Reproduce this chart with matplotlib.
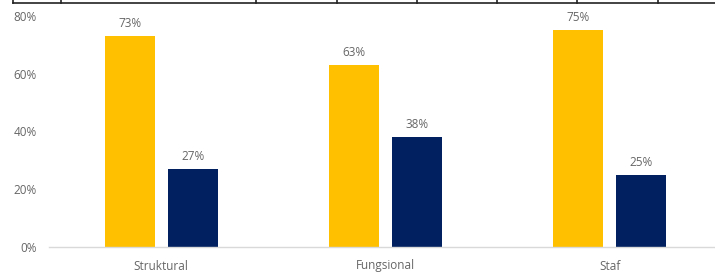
import matplotlib
matplotlib.use("Agg")
import matplotlib.pyplot as plt
from matplotlib.lines import Line2D
import numpy as np

categories = ["Struktural", "Fungsional", "Staf"]
series_a = [73, 63, 75]   # yellow
series_b = [27, 38, 25]   # navy
yticks = [0, 20, 40, 60, 80]
ytick_labels = ["0%", "20%", "40%", "60%", "80%"]

plt.rcParams['font.family'] = ['Open Sans', 'DejaVu Sans']

W, H = 715, 273
fig = plt.figure(figsize=(W / 100, H / 100), dpi=100)
left, right = 49, 722
top, bottom = 16, 247
ax = fig.add_axes([left / W, (H - bottom) / H, (right - left) / W, (bottom - top) / H])

x = np.arange(len(categories))
bw = 0.223
off = 0.14
yellow = "#FFC000"
navy = "#002060"
ba = ax.bar(x - off, series_a, bw, color=yellow)
bb = ax.bar(x + off, series_b, bw, color=navy)

gray = "#666666"
for bars, vals in ((ba, series_a), (bb, series_b)):
    for r, v in zip(bars, vals):
        ax.annotate(f"{v}%", (r.get_x() + r.get_width() / 2, v), xytext=(0, 4.5),
                    textcoords="offset points", ha="center", va="bottom",
                    fontsize=8.5, color=gray, annotation_clip=False)

ax.set_xlim(-0.5, len(categories) - 0.5)
ax.set_ylim(0, 80)
ax.set_yticks(yticks)
ax.set_yticklabels(ytick_labels)
ax.set_xticks(x)
ax.set_xticklabels(categories)
ax.tick_params(axis="both", length=0, colors=gray, labelsize=8.5)
ax.tick_params(axis="y", pad=9)
ax.tick_params(axis="x", pad=9)
for s in ("top", "right", "left"):
    ax.spines[s].set_visible(False)
ax.spines["bottom"].set_color("#D9D9D9")
ax.spines["bottom"].set_linewidth(1)

# cropped table border at the top of the picture
yline = 1 - 2.5 / H
fig.add_artist(Line2D([13 / W, 1], [yline, yline], color="#222222", lw=1.2))
for px in [13, 61, 256, 337, 417, 497, 577, 658]:
    fig.add_artist(Line2D([px / W, px / W], [yline, 1], color="#222222", lw=1.2))

fig.savefig("out.png", dpi=100)
